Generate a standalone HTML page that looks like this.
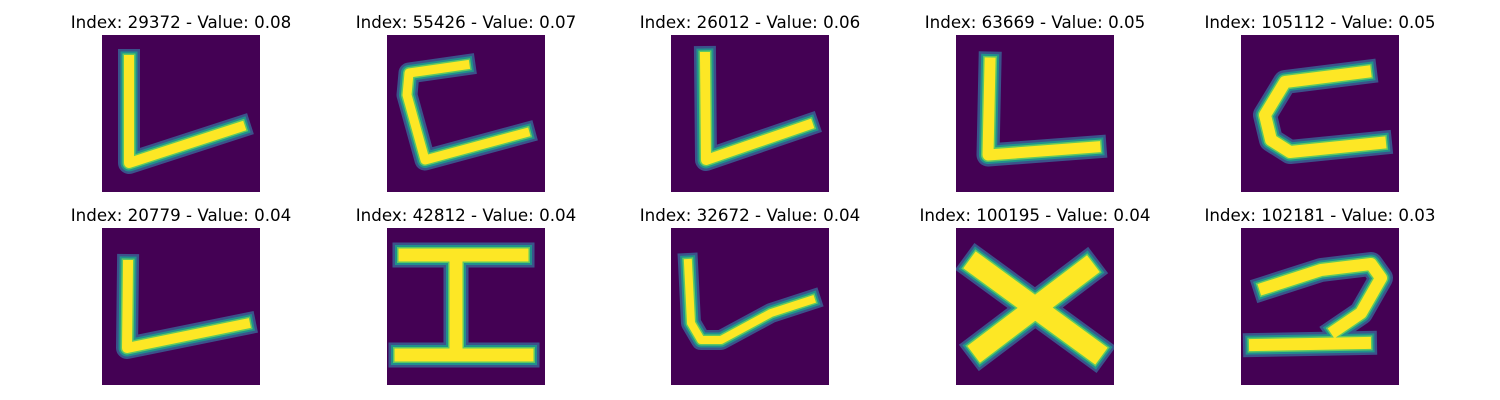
<!DOCTYPE html>
<html><head><meta charset="utf-8"><style>
html,body{margin:0;padding:0;background:#fff;width:1500px;height:400px;overflow:hidden}
svg text{font-family:"DejaVu Sans","Liberation Sans",sans-serif;font-size:16.7px;fill:#000}
</style></head><body>
<svg id="fig" width="1500" height="400" xmlns="http://www.w3.org/2000/svg">
<defs><clipPath id="cp"><rect x="0" y="0" width="158" height="157"/></clipPath></defs>
</svg>
<script>
const indices=[29372,55426,26012,63669,105112,20779,42812,32672,100195,102181];
const values=["0.08","0.07","0.06","0.05","0.05","0.04","0.04","0.04","0.04","0.03"];
const colX=[102,387,671,956,1241];
const rowY=[35,228];
// stroke shapes per glyph, local coords in 158x157 image box
const strokes=[
 [[[27,25],[27,128],[138,92]]],
 [[[78,30],[22,38],[20,60],[38,125],[138,98]]],
 [[[34,22],[35,125],[137,90]]],
 [[[34,28],[32,120],[139,112]]],
 [[[124,37],[44,47],[24,80],[30,105],[49,117],[139,108]]],
 [[[26,37],[25,120],[143,96]]],
 [[[18,27],[135,27]],[[69,30],[69,125]],[[14,127],[140,127]]],
 [[[17,35],[20,95],[30,112],[50,112],[100,85],[140,72]]],
 [[[22,38],[137,122]],[[129,42],[26,120]]],
 [[[24,60],[80,42],[130,36],[140,50],[120,85],[95,102]],[[14,117],[124,115]]]
];
const widths=[10,9,10,11,12,10,13,8,21,12];
const fig=document.getElementById('fig');
const NS='http://www.w3.org/2000/svg';
for(let i=0;i<10;i++){
 const x=colX[i%5],y=rowY[Math.floor(i/5)];
 const t=document.createElementNS(NS,'text');
 
 
 t.setAttribute('x',x+79);t.setAttribute('y',y-7);t.setAttribute('text-anchor','middle');
 t.textContent='Index: '+indices[i]+' - Value: '+values[i];
 fig.appendChild(t);
 const g=document.createElementNS(NS,'g');
 
 
 g.setAttribute('transform','translate('+x+','+y+')');
 g.setAttribute('clip-path','url(#cp)');
 const r=document.createElementNS(NS,'rect');
 r.setAttribute('width',158);r.setAttribute('height',157);r.setAttribute('fill','#440154');
 g.appendChild(r);
 const layers=[['#3b528b',12],['#21918c',7],['#5ec962',3],['#fde725',0]];
 for(const [c,extra] of layers){
  for(const s of strokes[i]){
   const p=document.createElementNS(NS,'polyline');
   p.setAttribute('points',s.map(q=>q.join(',')).join(' '));
   p.setAttribute('fill','none');p.setAttribute('stroke',c);
   p.setAttribute('stroke-width',widths[i]+extra);
   p.setAttribute('stroke-linejoin','round');p.setAttribute('stroke-linecap','square');
   g.appendChild(p);
  }
 }
 fig.appendChild(g);
}
</script>
</body></html>
